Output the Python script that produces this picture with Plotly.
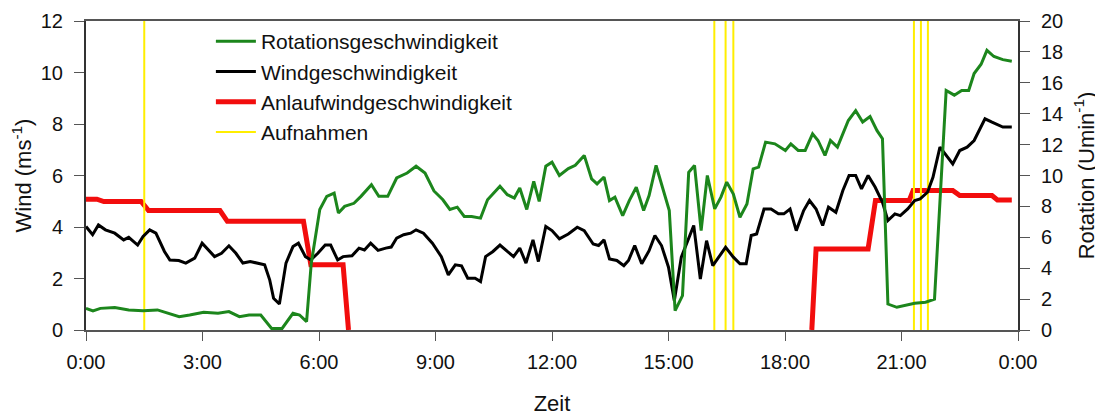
import plotly.graph_objects as go

# Rotationsgeschwindigkeit (U/min, right axis)
rot_t = [0, 0.18, 0.37, 0.74, 1.1, 1.47, 1.84, 2.1, 2.4, 2.67, 3.03, 3.4, 3.68, 3.95, 4.2, 4.5,
         4.78, 5.05, 5.33, 5.5, 5.68, 5.8, 6.02, 6.2, 6.39, 6.5, 6.66, 6.9, 7.08, 7.35, 7.54, 7.77,
         8.0, 8.27, 8.5, 8.73, 8.96, 9.19, 9.37, 9.56, 9.74, 9.93, 10.16, 10.34, 10.66, 10.85, 11.03,
         11.17, 11.35, 11.53, 11.67, 11.84, 12.0, 12.19, 12.42, 12.6, 12.83, 13.02, 13.16, 13.34,
         13.48, 13.62, 13.82, 13.99, 14.17, 14.36, 14.5, 14.68, 14.82, 15.02, 15.17, 15.36, 15.52,
         15.67, 15.84, 16.0, 16.19, 16.35, 16.5, 16.67, 16.84, 17.02, 17.18, 17.32, 17.5, 17.74,
         18.01, 18.15, 18.34, 18.52, 18.71, 18.85, 19.03, 19.17, 19.35, 19.63, 19.82, 20.0, 20.19,
         20.37, 20.51, 20.65, 20.88, 21.11, 21.34, 21.62, 21.85, 22.15, 22.36, 22.55, 22.73, 22.87,
         23.05, 23.2, 23.38, 23.61, 23.84]
rot_v = [1.4, 1.23, 1.4, 1.45, 1.3, 1.25, 1.3, 1.08, 0.86, 0.97, 1.15, 1.08, 1.19, 0.86, 0.97, 0.97,
         0.1, 0.1, 1.08, 0.97, 0.54, 4.3, 7.8, 8.65, 8.86, 7.57, 8.0, 8.2, 8.65, 9.4, 8.65, 8.65,
         9.84, 10.16, 10.6, 10.16, 9.0, 8.43, 7.8, 7.95, 7.35, 7.35, 7.24, 8.43, 9.3, 8.76, 8.54,
         9.19, 7.8, 9.62, 8.32, 10.6, 10.86, 10.0, 10.45, 10.66, 11.3, 9.78, 9.46, 9.9,
         8.38, 8.6, 7.4, 8.38, 9.24, 7.73, 8.7, 10.65, 9.46, 7.73, 1.25, 2.22, 10.2,
         10.65, 6.44, 10.0, 7.84, 8.6, 9.57, 8.8, 7.3, 8.16, 10.43, 10.54, 12.16, 12.05,
         11.62, 12.05, 11.62, 11.62, 12.7, 12.27, 11.3, 12.27, 11.84, 13.56, 14.2, 13.46, 13.82,
         12.9, 12.38, 1.68, 1.47, 1.58, 1.73, 1.8, 2.0, 15.5, 15.2, 15.5, 15.5, 16.6,
         17.2, 18.1, 17.7, 17.5, 17.4]

# Windgeschwindigkeit (m/s, left axis)
wind_t = [0, 0.17, 0.32, 0.5, 0.74, 0.97, 1.1, 1.33, 1.47, 1.64, 1.8, 2.02, 2.16, 2.39, 2.57, 2.8,
          2.99, 3.17, 3.31, 3.49, 3.68, 3.86, 4.04, 4.23, 4.41, 4.6, 4.73, 4.83, 4.98, 5.15, 5.33,
          5.47, 5.65, 5.79, 5.97, 6.16, 6.3, 6.48, 6.62, 6.85, 7.03, 7.17, 7.33, 7.52, 7.72, 7.86,
          8.0, 8.18, 8.36, 8.5, 8.69, 8.92, 9.15, 9.33, 9.51, 9.67, 9.83, 10.02, 10.16, 10.29, 10.48,
          10.66, 10.85, 11.01, 11.17, 11.33, 11.51, 11.65, 11.84, 12.0, 12.19, 12.42, 12.65, 12.83,
          13.06, 13.2, 13.34, 13.48, 13.67, 13.85, 13.97, 14.13, 14.31, 14.5, 14.65, 14.82, 15.0,
          15.15, 15.33, 15.49, 15.65, 15.82, 15.98, 16.14, 16.3, 16.47, 16.67, 16.84, 17.0, 17.13,
          17.27, 17.46, 17.64, 17.83, 17.97, 18.13, 18.29, 18.48, 18.63, 18.8, 18.97, 19.12, 19.31,
          19.49, 19.65, 19.82, 19.97, 20.14, 20.32, 20.51, 20.65, 20.83, 20.97, 21.16, 21.34, 21.48,
          21.67, 21.81, 21.99, 22.13, 22.32, 22.5, 22.69, 22.87, 23.15, 23.33, 23.61, 23.84]
wind_v = [4.02, 3.7, 4.08, 3.89, 3.76, 3.5, 3.6, 3.3, 3.63, 3.89, 3.76, 3.05, 2.72, 2.7, 2.6, 2.79,
          3.37, 3.1, 2.85, 2.98, 3.27, 2.98, 2.6, 2.66, 2.6, 2.53, 1.95, 1.23, 1.01, 2.6, 3.24,
          3.37, 2.85, 2.72, 2.98, 3.3, 3.3, 2.72, 2.85, 2.88, 3.18, 3.11, 3.37, 3.09, 3.18, 3.22,
          3.57, 3.7, 3.76, 3.89, 3.76, 3.37, 2.85, 2.14, 2.53, 2.49, 2.01, 2.01, 1.88, 2.85, 3.05,
          3.3, 3.05, 2.85, 3.18, 2.6, 3.5, 2.66, 4.02, 3.86, 3.54, 3.73, 3.99, 3.86,
          3.34, 3.28, 3.5, 2.76, 2.7, 2.5, 2.7, 3.28, 2.57, 3.08, 3.67, 3.28, 2.44,
          1.14, 2.83, 3.47, 4.06, 1.98, 3.47, 2.5, 2.83, 3.21, 2.83, 2.57, 2.57, 3.67,
          3.73, 4.7, 4.7, 4.51, 4.51, 4.7, 3.86, 4.64, 5.03, 4.7, 4.06, 4.77, 4.57,
          5.42, 6.0, 6.0, 5.48, 6.0, 5.55, 4.96, 4.25, 4.51, 4.44, 4.7, 5.03, 5.09,
          5.35, 5.93, 7.1, 6.84, 6.45, 6.97, 7.1, 7.36, 8.2, 8.07, 7.88, 7.88]

# Anlaufwindgeschwindigkeit (m/s, left axis), None = no value
anl_t = [0, 0.28, 0.46, 1.42, 1.61, 3.45, 3.64, 5.6, 5.79, 6.62, 6.76, 12.0,
         18.69, 18.8, 20.14, 20.33, 21.2, 21.3, 22.32, 22.5, 23.33, 23.47, 23.84]
anl_v = [5.08, 5.08, 4.99, 4.99, 4.64, 4.64, 4.22, 4.22, 2.53, 2.53, 0, None,
         0, 3.15, 3.15, 5.03, 5.03, 5.42, 5.42, 5.22, 5.22, 5.05, 5.05]

# Aufnahmen (photo times, hours)
aufnahmen = [1.5, 16.18, 16.47, 16.67, 21.32, 21.5, 21.68]

tick_vals = [0, 3, 6, 9, 12, 15, 18, 21, 24]
tick_text = ["0:00", "3:00", "6:00", "9:00", "12:00", "15:00", "18:00", "21:00", "0:00"]

FONT = "Liberation Sans, Arial, sans-serif"
GREEN = "#1c861c"
RED = "#f20d0d"
YELLOW = "#ffee00"

yx, yy = [], []
for t in aufnahmen:
    yx += [t, t, None]
    yy += [0, 12, None]

fig = go.Figure()
fig.add_trace(go.Scatter(x=anl_t, y=anl_v, mode="lines", name="Anlaufwindgeschwindigkeit",
                         line=dict(color=RED, width=5), connectgaps=False, legendrank=3))
fig.add_trace(go.Scatter(x=yx, y=yy, mode="lines", name="Aufnahmen",
                         line=dict(color=YELLOW, width=2), legendrank=4))
fig.add_trace(go.Scatter(x=wind_t, y=wind_v, mode="lines", name="Windgeschwindigkeit",
                         line=dict(color="black", width=3), legendrank=2))
fig.add_trace(go.Scatter(x=rot_t, y=rot_v, mode="lines", name="Rotationsgeschwindigkeit",
                         line=dict(color=GREEN, width=3), yaxis="y2", legendrank=1))

fig.update_layout(
    width=1095, height=408,
    margin=dict(l=78, r=85, t=13, b=86),
    paper_bgcolor="white", plot_bgcolor="white",
    font=dict(family=FONT, size=20, color="#111"),
    showlegend=True,
    legend=dict(x=0.134, y=1.0, xanchor="left", yanchor="top", bgcolor="rgba(0,0,0,0)",
                font=dict(size=21, color="#111"), tracegroupgap=0, itemwidth=40,
                traceorder="normal"),
    xaxis=dict(range=[0, 24], tickvals=tick_vals, ticktext=tick_text, showgrid=False,
               zeroline=False, showline=True, linecolor="#555", linewidth=1.5, mirror=True,
               ticks="outside", ticklen=9, tickcolor="#555", automargin=False,
               ticklabelstandoff=4,
               title=dict(text="Zeit", font=dict(size=22), standoff=26)),
    yaxis=dict(range=[0, 12], dtick=2, showgrid=False, zeroline=False, showline=True,
               linecolor="#333", linewidth=2, ticks="outside", ticklen=10, tickcolor="#555",
               ticklabelstandoff=7, automargin=False,
               title=dict(text="Wind (ms<sup>-1</sup>)", font=dict(size=22), standoff=10)),
    yaxis2=dict(range=[0, 20], dtick=2, overlaying="y", side="right", showgrid=False,
                zeroline=False, showline=True, linecolor="#333", linewidth=2, ticks="outside",
                ticklen=10, tickcolor="#555", ticklabelstandoff=7, automargin=False,
                title=dict(text="Rotation (Umin<sup>-1</sup>)", font=dict(size=22), standoff=16)),
)

fig.write_html("out.html")
